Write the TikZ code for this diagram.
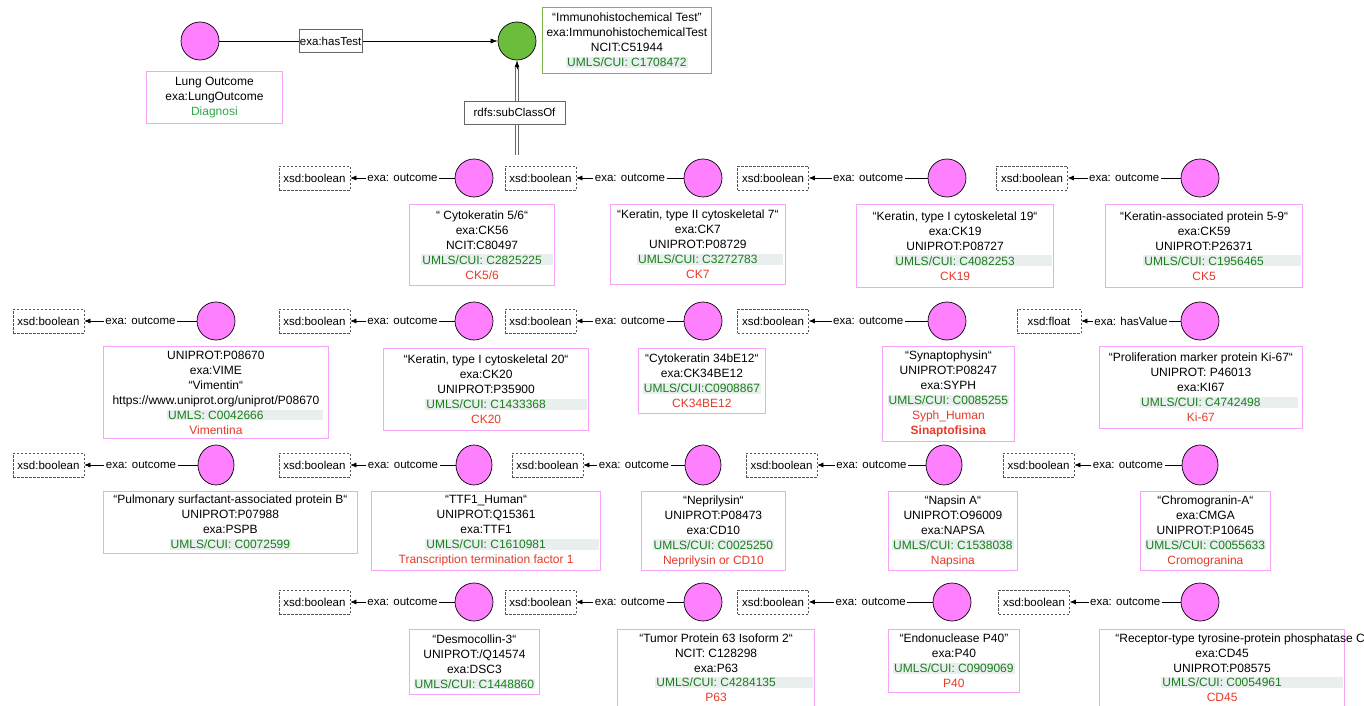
\documentclass[tikz,border=0pt]{standalone}
\usepackage{fontspec}
\setmainfont{Liberation Sans}
\usetikzlibrary{arrows.meta,shapes.geometric}
\definecolor{pinkc}{HTML}{FF80FF}
\definecolor{pinkb}{HTML}{F7A3F7}
\definecolor{greenc}{HTML}{6BBD3B}
\definecolor{greenb}{HTML}{7DB54A}
\definecolor{umlsc}{HTML}{1A7F1A}
\definecolor{diagc}{HTML}{2DA84A}
\definecolor{redt}{HTML}{E53B2A}
\definecolor{hlbg}{HTML}{E9EFEF}
\definecolor{litc}{HTML}{555555}
\newcommand\fs{\fontsize{12}{15}\selectfont}
\newcommand\fsl{\fontsize{11.5}{14}\selectfont}
% UMLS code on a light band that runs #1 further to the right
\newcommand\umls[2][0pt]{{\setlength\fboxsep{1pt}\hspace*{#1}\colorbox{hlbg}{\color{umlsc}#2\hspace*{#1}}}}
\newcommand\lbl[1]{{\color{redt}#1}}
\tikzset{
  cls/.style={circle, draw=black, line width=0.7pt, fill=pinkc, minimum size=38pt, inner sep=0pt},
  clsb/.style={ellipse, draw=black, line width=0.7pt, fill=pinkc, minimum width=36pt, minimum height=40pt, inner sep=0pt},
  info/.style={draw=pinkb, line width=0.8pt, fill=white, align=center, inner sep=2pt, anchor=north west, font=\fs},
  lit/.style={draw=litc, dash pattern=on 2.5pt off 1.5pt, line width=0.6pt, minimum width=71pt, minimum height=24pt, inner sep=1pt, font=\fsl},
  prop/.style={-{Latex[length=6pt,width=5pt]}, line width=0.6pt},
  plab/.style={fill=white, inner sep=1.5pt, font=\fsl},
  lbox/.style={draw=gray!80!black, line width=0.6pt, fill=white, inner sep=1pt, font=\fsl}
}
\begin{document}
\begin{tikzpicture}[x=1pt,y=-1pt]
\useasboundingbox (0,0) rectangle (1364,706);

% ---- top: lung outcome and the test class ----
\node[cls] (lung) at (200,41) {};
\node[info, minimum width=136pt, minimum height=52pt] (lungbox) at (146,71)
  {Lung Outcome\\exa:LungOutcome\\{\color{diagc}Diagnosi}};
\node[cls, fill=greenc] (ihc) at (517,41) {};
\node[info, draw=greenb, minimum width=169pt, minimum height=66pt] (ihcbox) at (542,7)
  {“Immunohistochemical Test”\\exa:ImmunohistochemicalTest\\NCIT:C51944\\\umls{UMLS/CUI: C1708472}};
\draw[prop, -{Latex[length=7pt,width=5pt]}] (lung) -- node[lbox, pos=0.4, minimum width=63pt, minimum height=23pt] (hastest) {exa:hasTest} (ihc);

\coordinate (subEnd) at (517,155);
\draw[draw=gray!80!black, double=white, double distance=2.4pt, line width=0.6pt] (subEnd) -- ([yshift=-8pt]ihc.south);
\draw[-{Latex[length=7pt,width=5pt]}, line width=0.6pt] ([yshift=-9pt]ihc.south) -- (ihc.south);
\node[lbox, minimum width=101pt, minimum height=23pt] (subcls) at (514.5,112.5) {rdfs:subClassOf};

% ---- row 1 ----
\node[cls] (ck56) at (474,178) {};
\node[lit] (ck56l) at (314.5,178) {xsd:boolean};
\draw[prop] (ck56) -- node[plab] (ck56p) {exa: outcome} (ck56l);
\node[info, minimum width=130pt, minimum height=81pt] (ck56b) at (409,204)
  {“ Cytokeratin 5/6“\\exa:CK56\\NCIT:C80497\\\umls[10pt]{UMLS/CUI: C2825225}\\\lbl{CK5/6}};

\node[cls] (ck7) at (703,178) {};
\node[lit] (ck7l) at (540.5,178) {xsd:boolean};
\draw[prop] (ck7) -- node[plab] (ck7p) {exa: outcome} (ck7l);
\node[info, minimum width=175pt, minimum height=80pt] (ck7b) at (610,204)
  {“Keratin, type II cytoskeletal 7“\\exa:CK7\\UNIPROT:P08729\\\umls[24pt]{UMLS/CUI: C3272783}\\\lbl{CK7}};

\node[cls] (ck19) at (947,178) {};
\node[lit] (ck19l) at (773,178) {xsd:boolean};
\draw[prop] (ck19) -- node[plab] (ck19p) {exa: outcome} (ck19l);
\node[info, minimum width=156pt, minimum height=83pt] (ck19b) at (856,204)
  {“Keratin, type I cytoskeletal 19“\\exa:CK19\\UNIPROT:P08727\\\umls[36pt]{UMLS/CUI: C4082253}\\\lbl{CK19}};

\node[cls] (ck59) at (1200,178) {};
\node[lit] (ck59l) at (1032,178) {xsd:boolean};
\draw[prop] (ck59) -- node[plab] (ck59p) {exa: outcome} (ck59l);
\node[info, minimum width=188pt, minimum height=83pt] (ck59b) at (1105,204)
  {“Keratin-associated protein 5-9“\\exa:CK59\\UNIPROT:P26371\\\umls[36pt]{UMLS/CUI: C1956465}\\\lbl{CK5}};

% ---- row 2 ----
\node[cls] (vime) at (216,321) {};
\node[lit] (vimel) at (48.5,321) {xsd:boolean};
\draw[prop] (vime) -- node[plab] (vimep) {exa: outcome} (vimel);
\node[info, minimum width=225pt, minimum height=92pt] (vimeb) at (103,346)
  {UNIPROT:P08670\\exa:VIME\\“Vimentin“\\https://www.uniprot.org/uniprot/P08670\\\umls[58pt]{UMLS: C0042666}\\\lbl{Vimentina}};

\node[cls] (ck20) at (474,321) {};
\node[lit] (ck20l) at (314.5,321) {xsd:boolean};
\draw[prop] (ck20) -- node[plab] (ck20p) {exa: outcome} (ck20l);
\node[info, minimum width=184pt, minimum height=82pt] (ck20b) at (383,348)
  {“Keratin, type I cytoskeletal 20“\\exa:CK20\\UNIPROT:P35900\\\umls[40pt]{UMLS/CUI: C1433368}\\\lbl{CK20}};

\node[cls] (ck34) at (703,321) {};
\node[lit] (ck34l) at (540.5,321) {xsd:boolean};
\draw[prop] (ck34) -- node[plab] (ck34p) {exa: outcome} (ck34l);
\node[info, minimum width=127pt, minimum height=65pt] (ck34b) at (638,348)
  {“Cytokeratin 34bE12“\\exa:CK34BE12\\\umls{UMLS/CUI:C0908867}\\\lbl{CK34BE12}};

\node[cls] (syph) at (947,321) {};
\node[lit] (syphl) at (773,321) {xsd:boolean};
\draw[prop] (syph) -- node[plab] (syphp) {exa: outcome} (syphl);
\node[info, minimum width=132pt, minimum height=95pt] (syphb) at (882,346)
  {“Synaptophysin“\\UNIPROT:P08247\\exa:SYPH\\\umls{UMLS/CUI: C0085255}\\\lbl{Syph\_Human}\\\lbl{\bfseries Sinaptofisina}};

\node[cls] (ki67) at (1200,321) {};
\node[lit, minimum width=64pt] (ki67l) at (1049,321) {xsd:float};
\draw[prop] (ki67) -- node[plab] (ki67p) {exa: hasValue} (ki67l);
\node[info, minimum width=203pt, minimum height=82pt] (ki67b) at (1099,346)
  {“Proliferation marker protein Ki-67“\\UNIPROT: P46013\\exa:KI67\\\umls[36pt]{UMLS/CUI: C4742498}\\\lbl{Ki-67}};

% ---- row 3 ----
\node[clsb] (pspb) at (216,465) {};
\node[lit] (pspbl) at (48.5,465) {xsd:boolean};
\draw[prop] (pspb) -- node[plab] (pspbp) {exa: outcome} (pspbl);
\node[info, minimum width=254pt, minimum height=62pt] (pspbb) at (103,491)
  {“Pulmonary surfactant-associated protein B“\\UNIPROT:P07988\\exa:PSPB\\\umls{UMLS/CUI: C0072599}};

\node[clsb] (ttf1) at (474,465) {};
\node[lit] (ttf1l) at (314.5,465) {xsd:boolean};
\draw[prop] (ttf1) -- node[plab] (ttf1p) {exa: outcome} (ttf1l);
\node[info, minimum width=206pt, minimum height=79pt] (ttf1b) at (371,491)
  {“TTF1\_Human“\\UNIPROT:Q15361\\exa:TTF1\\\umls[52pt]{UMLS/CUI: C1610981}\\\lbl{Transcription termination factor 1}};

\node[clsb] (cd10) at (703,465) {};
\node[lit] (cd10l) at (547.5,465) {xsd:boolean};
\draw[prop] (cd10) -- node[plab] (cd10p) {exa: outcome} (cd10l);
\node[info, minimum width=144pt, minimum height=79pt] (cd10b) at (641,491)
  {“Neprilysin“\\UNIPROT:P08473\\exa:CD10\\\umls{UMLS/CUI: C0025250}\\\lbl{Neprilysin or CD10}};

\node[clsb] (napsa) at (944,465) {};
\node[lit] (napsal) at (781.5,465) {xsd:boolean};
\draw[prop] (napsa) -- node[plab] (napsap) {exa: outcome} (napsal);
\node[info, minimum width=129pt, minimum height=79pt] (napsab) at (888,491)
  {“Napsin A“\\UNIPROT:O96009\\exa:NAPSA\\\umls{UMLS/CUI: C1538038}\\\lbl{Napsina}};

\node[clsb] (cmga) at (1200,465) {};
\node[lit] (cmgal) at (1038.5,465) {xsd:boolean};
\draw[prop] (cmga) -- node[plab] (cmgap) {exa: outcome} (cmgal);
\node[info, minimum width=130pt, minimum height=79pt] (cmgab) at (1140,491)
  {“Chromogranin-A“\\exa:CMGA\\UNIPROT:P10645\\\umls{UMLS/CUI: C0055633}\\\lbl{Cromogranina}};

% ---- row 4 (the two right boxes run past the lower edge) ----
\node[cls] (dsc3) at (474,602) {};
\node[lit] (dsc3l) at (314.5,602) {xsd:boolean};
\draw[prop] (dsc3) -- node[plab] (dsc3p) {exa: outcome} (dsc3l);
\node[info, minimum width=130pt, minimum height=65pt] (dsc3b) at (409,629)
  {“Desmocollin-3“\\UNIPROT:/Q14574\\exa:DSC3\\\umls{UMLS/CUI: C1448860}};

\node[cls] (p63) at (703,602) {};
\node[lit] (p63l) at (540.5,602) {xsd:boolean};
\draw[prop] (p63) -- node[plab] (p63p) {exa: outcome} (p63l);
\node[info, minimum width=165pt, inner ysep=0.5pt, font=\fontsize{12}{14.6}\selectfont] (p63b) at (617,629)
  {\rule{0pt}{13pt}“Tumor Protein 63 Isoform 2“\\NCIT: C128298\\exa:P63\\\umls[36pt]{UMLS/CUI: C4284135}\\\lbl{P63}\\[2pt]};

\node[cls] (p40) at (952,602) {};
\node[lit] (p40l) at (773,602) {xsd:boolean};
\draw[prop] (p40) -- node[plab] (p40p) {exa: outcome} (p40l);
\node[info, minimum width=131pt, minimum height=63pt] (p40b) at (888,629)
  {“Endonuclease P40”\\exa:P40\\\umls{UMLS/CUI: C0909069}\\\lbl{P40}};

\node[cls] (cd45) at (1200,602) {};
\node[lit] (cd45l) at (1034,602) {xsd:boolean};
\draw[prop] (cd45) -- node[plab] (cd45p) {exa: outcome} (cd45l);
\node[info, minimum width=245pt, inner ysep=0.5pt, font=\fontsize{12}{14.6}\selectfont] (cd45b) at (1099,629)
  {\rule{0pt}{13pt}\makebox[0pt]{\hspace*{36pt}“Receptor-type tyrosine-protein phosphatase C}\\exa:CD45\\UNIPROT:P08575\\\umls[60pt]{UMLS/CUI: C0054961}\\\lbl{CD45}\\[2pt]};
\end{tikzpicture}
\end{document}
